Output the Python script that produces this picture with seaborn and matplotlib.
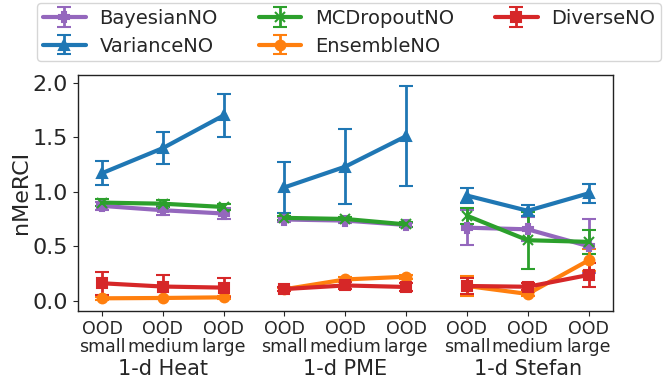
import numpy as np
import matplotlib
matplotlib.use("Agg")
import matplotlib.pyplot as plt
import seaborn as sns

# x layout: three problems, each evaluated at three OOD levels
problems = ["1-d Heat", "1-d PME", "1-d Stefan"]
levels = ["OOD\nsmall", "OOD\nmedium", "OOD\nlarge"]

methods = ["BayesianNO", "VarianceNO", "MCDropoutNO", "EnsembleNO", "DiverseNO"]

# nMeRCI means (Heat small/medium/large, PME ..., Stefan ...)
bayesian_mean = [0.87, 0.83, 0.80, 0.745, 0.735, 0.695, 0.67, 0.655, 0.50]
variance_mean = [1.17, 1.40, 1.70, 1.04, 1.23, 1.51, 0.965, 0.825, 0.985]
mcdropout_mean = [0.90, 0.89, 0.86, 0.76, 0.75, 0.70, 0.78, 0.555, 0.54]
ensemble_mean = [0.022, 0.025, 0.031, 0.105, 0.195, 0.22, 0.135, 0.062, 0.37]
diverse_mean = [0.16, 0.13, 0.12, 0.107, 0.14, 0.126, 0.135, 0.128, 0.236]

# half-widths of the error bars
bayesian_err = [0.04, 0.045, 0.05, 0.02, 0.02, 0.02, 0.16, 0.11, 0.25]
variance_err = [0.11, 0.145, 0.20, 0.235, 0.345, 0.46, 0.065, 0.05, 0.085]
mcdropout_err = [0.035, 0.03, 0.03, 0.02, 0.02, 0.02, 0.075, 0.26, 0.11]
ensemble_err = [0.012, 0.012, 0.012, 0.015, 0.025, 0.02, 0.09, 0.02, 0.10]
diverse_err = [0.105, 0.105, 0.09, 0.02, 0.03, 0.035, 0.07, 0.03, 0.11]

means = [bayesian_mean, variance_mean, mcdropout_mean, ensemble_mean, diverse_mean]
errs = [bayesian_err, variance_err, mcdropout_err, ensemble_err, diverse_err]
markers = ["P", "^", "x", "o", "s"]

sns.set_style("ticks")
plt.rcParams["font.family"] = ["DejaVu Sans"]
palette = sns.color_palette("tab10")
colors = [palette[4], palette[0], palette[2], palette[1], palette[3]]

fig = plt.figure(figsize=(6.64, 3.86), dpi=100)
ax = fig.add_axes([0.117, 0.195, 0.806, 0.611])

x = np.arange(len(problems) * len(levels))
for name, m, e, mk, c in zip(methods, means, errs, markers, colors):
    for g in range(len(problems)):
        sl = slice(3 * g, 3 * g + 3)
        ax.errorbar(x[sl], np.array(m)[sl], yerr=np.array(e)[sl], color=c,
                    marker=mk, markersize=7, linewidth=3, elinewidth=2,
                    capsize=5, capthick=1.5, markeredgewidth=1.5,
                    label=name if g == 0 else None)

for s in ax.spines.values():
    s.set_visible(True)
    s.set_color("#222222")
    s.set_linewidth(1.0)

ax.set_xlim(-0.4, 8.4)
ax.set_ylim(-0.092, 2.072)
ax.set_yticks([0.0, 0.5, 1.0, 1.5, 2.0])
ax.tick_params(axis="y", labelsize=16)
ax.set_xticks(x)
ax.set_xticklabels(levels * len(problems), fontsize=12.5, linespacing=1.0)
ax.tick_params(axis="x", pad=3)
ax.set_ylabel("nMeRCI", fontsize=16, labelpad=1)

for g, p in enumerate(problems):
    ax.annotate(p, xy=(3 * g + 1, 0), xycoords=("data", "axes fraction"),
                xytext=(0, -35), textcoords="offset points",
                ha="center", va="top", fontsize=15)

fig.legend(loc="upper center", bbox_to_anchor=(0.526, 1.0), ncol=3,
           fontsize=14, columnspacing=2.1, handlelength=2.2,
           handletextpad=0.7, borderpad=0.3, borderaxespad=0.15,
           labelspacing=0.45)

fig.savefig("out.png", dpi=100)
